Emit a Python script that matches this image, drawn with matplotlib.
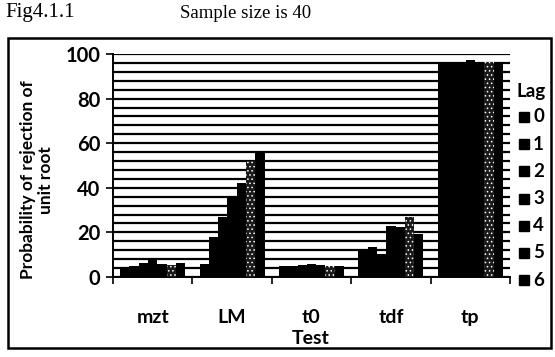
import matplotlib
matplotlib.use("Agg")
import matplotlib.pyplot as plt
from matplotlib.patches import Rectangle
import numpy as np

# values
tests = ["mzt", "LM", "t0", "tdf", "tp"]
lags = ["0", "1", "2", "3", "4", "5", "6"]
lag0 = [4, 6, 4.8, 12, 96.5]
lag1 = [5, 18, 5.0, 13.5, 96.5]
lag2 = [6.5, 27, 5.5, 10.5, 96.5]
lag3 = [7.5, 36, 5.8, 23, 97.5]
lag4 = [6, 42, 5.2, 22.5, 96.5]
lag5 = [5.5, 52, 5.0, 27, 96.5]
lag6 = [6.5, 55.5, 5.0, 19.5, 96.5]
series = [lag0, lag1, lag2, lag3, lag4, lag5, lag6]

plt.rcParams['hatch.color'] = 'white'
plt.rcParams['hatch.linewidth'] = 0.6

W, H = 555, 357
fig = plt.figure(figsize=(W / 100, H / 100), dpi=100)
ax = fig.add_axes([113 / W, 1 - 277 / H, (510 - 113) / W, (277 - 54) / H])

x = np.arange(len(tests))
group = 0.82
bw = group / len(series)
for i, vals in enumerate(series):
    pos = x - group / 2 + bw * (i + 0.5)
    if i == 5:
        ax.bar(pos, vals, bw, color='#1a1a1a', hatch='....', linewidth=0, zorder=3)
    else:
        ax.bar(pos, vals, bw, color='black', linewidth=0, zorder=3)

ax.set_xlim(-0.5, len(tests) - 0.5)
ax.set_ylim(0, 100)
ax.set_yticks(range(0, 101, 20))
ax.set_yticks(range(0, 101, 4), minor=True)
ax.grid(axis='y', which='both', color='black', linewidth=1.6, zorder=0)
ax.set_xticks(np.arange(len(tests) + 1) - 0.5)
ax.set_xticklabels([])
ax.tick_params(axis='x', length=5, width=1.2, direction='out')
ax.tick_params(axis='y', which='major', length=5, width=1.2, direction='out', pad=4)
ax.tick_params(axis='y', which='minor', length=0)
for lab in ax.get_yticklabels():
    lab.set_fontfamily('Lato')
    lab.set_fontweight('bold')
    lab.set_fontsize(14.5)

for s in ['top', 'right']:
    ax.spines[s].set_visible(False)
ax.spines['left'].set_linewidth(1.4)
ax.spines['bottom'].set_linewidth(1.4)

for i, t in enumerate(tests):
    ax.text(i, -0.18, t, transform=ax.get_xaxis_transform(), ha='center', va='center',
            fontfamily='Lato', fontweight='bold', fontsize=14)

fig.text(311 / W, 1 - 338 / H, "Test", ha='center', va='center',
         fontfamily='Lato', fontweight='bold', fontsize=14)
fig.text(37 / W, 1 - 180 / H, "Probability of rejection of\nunit root", rotation=90,
         ha='center', va='center', fontfamily='Lato', fontweight='bold', fontsize=12.5,
         linespacing=1.1)

# legend drawn by hand, as in the scan it runs off the right edge
fig.text(516 / W, 1 - 91 / H, "Lag", ha='left', va='center',
         fontfamily='Lato', fontweight='bold', fontsize=13.5)
for k, lg in enumerate(lags):
    yy = 1 - (117 + k * 27.2) / H
    fig.patches.append(Rectangle((519 / W, yy - 5 / H), 10 / W, 10 / H,
                                 transform=fig.transFigure, color='black'))
    fig.text(533 / W, yy, lg, ha='left', va='center',
             fontfamily='Lato', fontweight='bold', fontsize=13.5)

# scanned frame and caption
fig.patches.append(Rectangle((8 / W, 1 - 348 / H), (551 - 8) / W, (348 - 38) / H,
                             transform=fig.transFigure, fill=False, linewidth=1.8,
                             edgecolor='black'))
fig.text(5 / W, 1 - 13 / H, "Fig4.1.1", ha='left', va='center',
         fontfamily='Liberation Serif', fontsize=15)
fig.text(180 / W, 1 - 13 / H, "Sample size is 40", ha='left', va='center',
         fontfamily='Liberation Serif', fontsize=13.5)

fig.savefig("out.png", dpi=100)
